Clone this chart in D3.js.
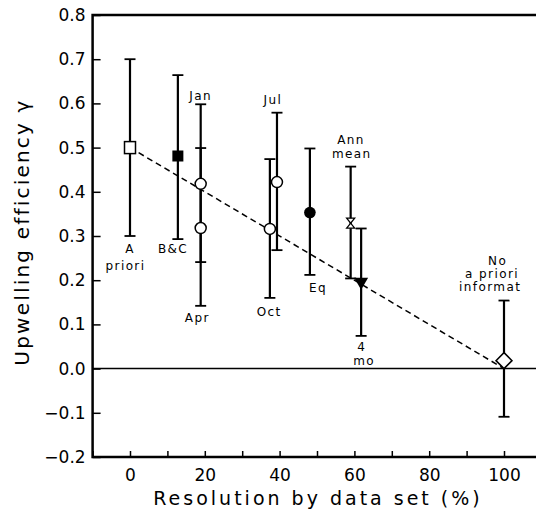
<!DOCTYPE html>
<html><head><meta charset="utf-8">
<script src="https://cdn.jsdelivr.net/npm/d3@7/dist/d3.min.js"></script>
<style>
html,body{margin:0;padding:0;background:#fff;}
svg{display:block;}
text{font-family:"DejaVu Sans",sans-serif;fill:#000;}
</style></head>
<body>
<svg id="chart" width="536" height="519"></svg>
<script>
// ---- data ----
const names   = ["A priori","B&C","Jan","Apr","Oct","Jul","Eq","Ann mean","4 mo","No a priori informat"];
const resX    = [0, 12.8, 18.9, 18.9, 37.4, 39.3, 48.1, 59.0, 61.8, 100];
const gamma   = [0.50, 0.481, 0.418, 0.318, 0.316, 0.422, 0.353, 0.329, 0.194, 0.018];
const gammaLo = [0.300, 0.293, 0.241, 0.142, 0.160, 0.268, 0.212, 0.204, 0.074, -0.109];
const gammaHi = [0.700, 0.664, 0.598, 0.499, 0.474, 0.579, 0.498, 0.457, 0.317, 0.154];
const markers = ["squareOpen","square","circleOpen","circleOpen","circleOpen","circleOpen","circle","hourglass","triangleDown","diamondOpen"];
const fitX = [0, 100];
const fitY = [0.5, 0.0];
const xTicks = [0, 20, 40, 60, 80, 100];
const xMinor = [-10, 0, 10, 20, 30, 40, 50, 60, 70, 80, 90, 100];
const yTicks = [0.8, 0.7, 0.6, 0.5, 0.4, 0.3, 0.2, 0.1, 0.0, -0.1, -0.2];
// annotation text lines with anchor in data units
const labelLines = ["A","priori","B&C","Jan","Apr","Jul","Oct","Eq","Ann","mean","4","mo","No","a priori","informat"];
const labelX     = [0, -1.2, 11.5, 18.9, 18, 38.2, 37.2, 50.3, 59.1, 59.3, 62, 62.6, 98.3, 96.8, 96.3];
const labelY     = [0.262, 0.222, 0.262, 0.607, 0.106, 0.599, 0.118, 0.174, 0.508, 0.476, 0.040, 0.008, 0.234, 0.205, 0.175];

// ---- layout ----
const svg = d3.select("#chart");
const x = d3.scaleLinear().domain([-10, 110]).range([92.6, 541.4]);
const y = d3.scaleLinear().domain([-0.2, 0.8]).range([457, 15]);
const x0 = x(-10), x1 = x(110), y0 = y(-0.2), y1 = y(0.8);

// zero line
svg.append("line").attr("x1", x0).attr("x2", x1).attr("y1", y(0)).attr("y2", y(0))
  .attr("stroke", "#000").attr("stroke-width", 1.5);

// frame
svg.append("path").attr("d", `M${x1},${y1}H${x0}V${y0}H${x1}`)
  .attr("fill", "none").attr("stroke", "#000").attr("stroke-width", 2.5);

// y axis ticks (inward) + labels
const fmt = v => (v < 0 ? "\u2212" : "") + Math.abs(v).toFixed(1);
const yAxis = d3.axisLeft(y).tickValues(yTicks).tickSizeInner(-8).tickSizeOuter(0).tickPadding(7).tickFormat(fmt);
const gy = svg.append("g").attr("transform", `translate(${x0},0)`).call(yAxis);
gy.select(".domain").remove();
gy.selectAll(".tick line").attr("stroke-width", 1.5);
gy.selectAll(".tick text").attr("font-size", 17).attr("font-family", "DejaVu Sans");

// x axis ticks (inward) + labels
const xAxisMinor = d3.axisBottom(x).tickValues(xMinor).tickSizeInner(-6).tickSizeOuter(0).tickFormat("");
const gxm = svg.append("g").attr("transform", `translate(0,${y0})`).call(xAxisMinor);
gxm.select(".domain").remove();
gxm.selectAll(".tick line").attr("stroke-width", 1.5);
const xAxis = d3.axisBottom(x).tickValues(xTicks).tickSize(0).tickPadding(12).tickFormat(d3.format("d"));
const gx = svg.append("g").attr("transform", `translate(0,${y0})`).call(xAxis);
gx.select(".domain").remove();
gx.selectAll(".tick text").attr("font-size", 17).attr("font-family", "DejaVu Sans");

// axis titles
svg.append("text").attr("x", 318).attr("y", 505).attr("text-anchor", "middle")
  .attr("font-size", 19).attr("letter-spacing", 3).text("Resolution by data set (%)");
svg.append("text").attr("transform", "translate(29,232) rotate(-90)").attr("text-anchor", "middle")
  .attr("font-size", 20).attr("letter-spacing", 2.2).text("Upwelling efficiency \u03b3");

// fit line (dashed)
svg.append("line").attr("x1", x(fitX[0])).attr("y1", y(fitY[0])).attr("x2", x(fitX[1])).attr("y2", y(fitY[1]))
  .attr("stroke", "#000").attr("stroke-width", 1.5).attr("stroke-dasharray", "6,4");

// error bars
const idx = d3.range(names.length);
const eb = svg.append("g").attr("stroke", "#000").attr("stroke-width", 2.2).attr("fill", "none");
idx.forEach(i => {
  const cx = x(resX[i]);
  eb.append("line").attr("x1", cx).attr("x2", cx).attr("y1", y(gammaLo[i])).attr("y2", y(gammaHi[i]));
  [gammaLo[i], gammaHi[i]].forEach(v => {
    eb.append("line").attr("x1", cx - 5.5).attr("x2", cx + 5.5).attr("y1", y(v)).attr("y2", y(v)).attr("stroke-width", 1.8);
  });
});

// markers
const mk = svg.append("g");
idx.forEach(i => {
  const cx = x(resX[i]), cy = y(gamma[i]);
  const g = mk.append("g").attr("transform", `translate(${cx},${cy})`);
  switch (markers[i]) {
    case "squareOpen":
      g.append("rect").attr("x", -5.5).attr("y", -6).attr("width", 11).attr("height", 12)
        .attr("fill", "#fff").attr("stroke", "#000").attr("stroke-width", 1.5); break;
    case "square":
      g.append("rect").attr("x", -5.5).attr("y", -5.5).attr("width", 11).attr("height", 11).attr("fill", "#000"); break;
    case "circleOpen":
      g.append("circle").attr("r", 5.5).attr("fill", "#fff").attr("stroke", "#000").attr("stroke-width", 1.5); break;
    case "circle":
      g.append("circle").attr("r", 5.8).attr("fill", "#000"); break;
    case "hourglass":
      g.append("path").attr("d", "M-4,-5L4,-5L0,0ZM-4,5L4,5L0,0Z")
        .attr("fill", "#fff").attr("stroke", "#000").attr("stroke-width", 1.3); break;
    case "triangleDown":
      g.append("path").attr("d", "M-7,-5L7,-5L0,7Z").attr("fill", "#000"); break;
    case "diamondOpen":
      g.append("path").attr("d", "M0,-8L8,0L0,8L-8,0Z")
        .attr("fill", "#fff").attr("stroke", "#000").attr("stroke-width", 1.5); break;
  }
});

// annotations
svg.append("g").selectAll("text").data(labelLines).join("text")
  .attr("x", (d, i) => x(labelX[i])).attr("y", (d, i) => y(labelY[i]))
  .attr("text-anchor", "middle").attr("font-size", 12).attr("letter-spacing", 1.4)
  .text(d => d);
</script>
</body></html>
